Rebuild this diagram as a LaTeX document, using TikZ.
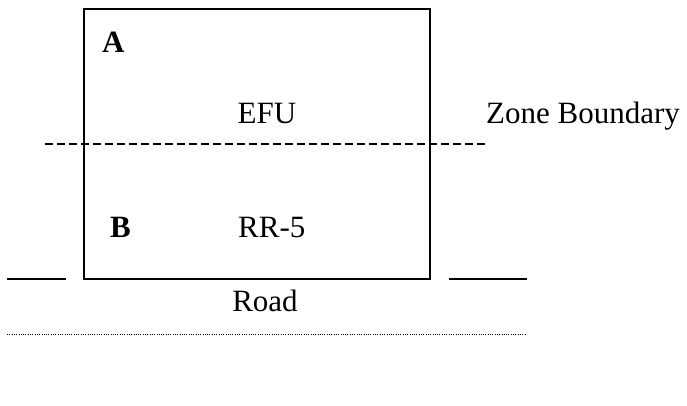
\documentclass[tikz,border=0pt]{standalone}
\usepackage{fontspec}
\setmainfont{Liberation Serif}
\begin{document}
\begin{tikzpicture}[x=1pt,y=-1pt,
  lbl/.style={inner sep=0pt, font=\fontsize{31}{36}\selectfont},
  boldlbl/.style={inner sep=0pt, font=\fontsize{31}{36}\selectfont\bfseries},
  boxline/.style={line width=1.5pt},
  zoneline/.style={line width=1.5pt, dash pattern=on 7.5pt off 4.5pt},
  roadedge/.style={line width=0.9pt, dash pattern=on 0.9pt off 1.4pt}]
\useasboundingbox (0,0) rectangle (687,406);
% parcel
\draw[boxline] (84,9) rectangle (430,279);
% zone boundary
\draw[zoneline] (45,144) -- (487,144);
% road edges
\draw[boxline] (7,279) -- (66,279);
\draw[boxline] (449,279) -- (527,279);
\draw[roadedge] (7,334) -- (525,334);
% labels
\node[boldlbl, anchor=base west] (a) at (102,53) {A};
\node[lbl, anchor=base] (efu) at (267,124) {EFU};
\node[lbl, anchor=base west] (zb) at (486,124) {Zone Boundary};
\node[boldlbl, anchor=base west] (b) at (110,237) {B};
\node[lbl, anchor=base west] (rr) at (238,237) {RR-5};
\node[lbl, anchor=base] (road) at (265,311) {Road};
\end{tikzpicture}
\end{document}
